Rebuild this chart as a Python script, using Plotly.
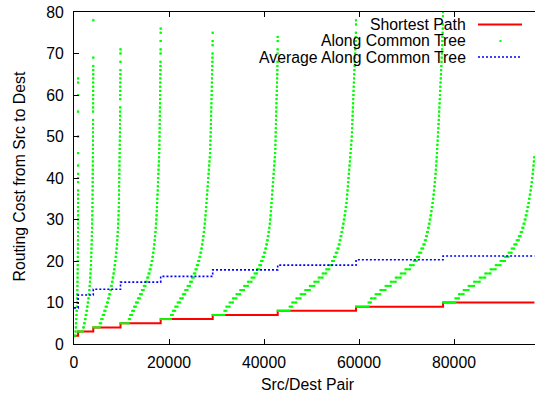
import plotly.graph_objects as go

# Src/dest pairs are sorted by shortest-path length, then by cost along the
# common tree. Each block below holds the pairs of one shortest-path length.
shortest_len = [2, 3, 4, 5, 6, 7, 8, 9, 10]

# Mean routing cost along the common tree inside each block
avg_tree_cost = [8.7, 11.8, 13.2, 14.9, 16.3, 17.85, 19.0, 20.3, 21.2]

# Number of pairs at each common-tree cost, per block.
# Entry k counts the pairs whose tree cost is (shortest length + k).
tree_counts_2 = [300, 60, 55, 50, 45, 40, 36, 32, 28, 25, 22, 20, 18, 16, 14,
                 12, 11, 10, 9, 8, 7, 6, 6, 5, 5, 4, 4, 3, 3, 3, 2, 2, 2, 2, 2,
                 1, 0, 1, 1, 1, 0, 1, 0, 0, 1, 0, 0, 0, 1, 0, 0, 0, 0, 0, 1,
                 0, 0, 0, 1, 0, 0, 1, 1]
tree_counts_3 = [1035, 190, 180, 168, 158, 147, 130, 116, 101, 88, 78, 67, 59,
                 53, 46, 42, 38, 34, 32, 29, 27, 25, 23, 21, 21, 19, 19, 17, 17,
                 17, 15, 15,
                 6, 6, 6, 6, 6, 6, 6, 6, 6, 6, 6, 6, 6, 6, 6, 6,
                 4, 4, 4, 4, 0, 4, 4, 4, 4, 4,
                 3, 3, 3, 3, 3, 3, 3, 0, 2, 0, 0, 0, 0, 0, 0, 0, 0, 1]
tree_counts_4 = [1346, 315, 315, 315, 295, 275, 250, 230, 210, 190, 168, 158,
                 147, 137, 126, 116, 105, 95, 84, 78, 63, 57, 53, 48, 44, 40,
                 36, 32, 29, 27,
                 13, 13, 13, 13, 13, 13, 13, 13, 13, 13, 13, 13, 13, 13, 13,
                 13, 13,
                 8, 8, 8, 8, 8, 8, 8, 0, 8, 8,
                 7, 7, 7, 7, 7, 7, 0, 5, 0, 4, 2]
tree_counts_5 = [1745, 280, 420, 400, 400, 420, 420, 420, 400, 360, 335, 275,
                 250, 230, 190, 158, 137, 120, 105, 95, 84, 76, 70, 63, 59, 55,
                 50, 46,
                 36, 36, 36, 36, 36, 36, 36, 36, 36, 36, 36, 36, 36, 36,
                 13, 13, 13, 13, 13, 13, 13, 13, 13, 13, 13, 13, 13, 13, 13, 13,
                 9, 9, 9, 9, 9, 9, 0, 8, 8, 0, 7, 0, 6, 3]
tree_counts_6 = [2175, 385, 505, 505, 545, 545, 505, 505, 505, 420, 380, 335,
                 295, 275, 250, 210, 180, 158, 137, 122, 110, 100, 88, 84, 78,
                 74, 70,
                 63, 63, 63, 63, 63, 63, 63, 63, 63, 63, 63, 63, 63, 63,
                 22, 22, 22, 22, 22, 22, 22, 22, 22, 22, 22, 22, 22, 22,
                 20, 20, 20, 20, 20, 20, 20, 20, 15, 15, 0, 12, 10, 0, 6]
tree_counts_7 = [2460, 410, 695, 715, 715, 800, 820, 800, 760, 630, 525, 465,
                 380, 335, 295, 250, 210, 180, 158, 137, 122, 110, 100, 90,
                 63, 63, 63, 63, 63, 63, 63, 63, 63, 63, 63, 63, 63, 63, 63, 63,
                 21, 21, 21, 21, 21, 21, 21, 21, 21, 21,
                 25, 25, 25, 25, 25, 25, 25, 25,
                 18, 18, 18, 18, 0, 12, 10, 0, 6, 4]
tree_counts_8 = [2505, 555, 865, 905, 970, 970, 945, 905, 840, 760, 655, 545,
                 420, 380, 335, 275, 210, 190, 180, 170, 160, 155, 147, 137,
                 126, 116, 105,
                 70, 70, 70, 70, 70, 70, 70, 70, 70, 70, 70, 70, 70, 70, 70,
                 34, 34, 34, 34, 34, 34, 34, 34, 34, 34, 34, 34, 34, 34, 34,
                 40, 40, 40, 40, 40, 40, 30, 30, 30, 30, 20, 0, 15, 10]
tree_counts_9 = [2625, 535, 950, 1010, 1095, 1095, 1050, 1050, 990, 950, 800,
                 630, 485, 465, 420, 315, 250, 210, 210, 190, 170, 158, 147,
                 137, 126, 116, 105, 95, 88, 84, 80, 74, 70, 63, 59, 55, 53,
                 48, 48, 48, 48, 48, 48, 48, 48, 48,
                 42, 42, 42, 42, 42, 42, 42, 42, 42, 42,
                 40, 40, 40, 40, 40, 40, 30, 30, 30, 30, 30, 25, 20, 0, 15, 10]
tree_counts_10 = [2600, 745, 990, 1050, 1160, 1180, 1160, 1115, 1095, 1010,
                  950, 760, 630, 545, 505, 465, 380, 315, 275, 240, 220, 200,
                  180, 170, 158, 147, 137, 126, 116, 105, 100, 93, 86, 82, 78,
                  74]

tree_counts = [tree_counts_2, tree_counts_3, tree_counts_4, tree_counts_5,
               tree_counts_6, tree_counts_7, tree_counts_8, tree_counts_9,
               tree_counts_10]

x_ticks = [0, 20000, 40000, 60000, 80000]
y_ticks = [0, 10, 20, 30, 40, 50, 60, 70, 80]
x_max = 97050

# Lay the pairs out along the x axis block by block.  Runs of pairs that share
# the same tree cost become short horizontal dashes of dots.
tree_x, tree_y = [], []
block_start = []
pos = 0
for s, counts in zip(shortest_len, tree_counts):
    block_start.append(pos)
    for k, n in enumerate(counts):
        if n > 0:
            tree_x += [pos, pos + n - 1, None]
            tree_y += [s + k, s + k, None]
        pos += n
n_pairs = pos

step_x = block_start + [n_pairs - 1]
short_y = shortest_len + [shortest_len[-1]]
avg_y = avg_tree_cost + [avg_tree_cost[-1]]

FONT = "Liberation Sans, Arial, Helvetica, sans-serif"
FS = 15.8
RED, GREEN, BLUE = "#ff0000", "#00ff00", "#0000ff"

fig = go.Figure()
fig.add_trace(go.Scatter(x=step_x, y=short_y, mode="lines", line_shape="hv",
                         line=dict(color=RED, width=2), showlegend=False,
                         name="Shortest Path"))
fig.add_trace(go.Scatter(x=tree_x, y=tree_y, mode="lines+markers",
                         line=dict(color=GREEN, width=2),
                         marker=dict(color=GREEN, size=2, symbol="square",
                                     line=dict(width=0)),
                         showlegend=False, name="Along Common Tree"))
fig.add_trace(go.Scatter(x=step_x, y=avg_y, mode="lines", line_shape="hv",
                         line=dict(color=BLUE, width=1.6, dash="2px,2px"),
                         showlegend=False, name="Average Along Common Tree"))

# Key in the top right corner: right-aligned labels with samples after them
L, R, T, B = 74, 535, 12, 344
W, H = R - L, B - T


def px(xp):
    return (xp - L) / W


def py(yp):
    return (B - yp) / H


key_rows = [("Shortest Path", 24.5), ("Along Common Tree", 41.0),
            ("Average Along Common Tree", 57.0)]
for text, yc in key_rows:
    fig.add_annotation(x=px(468), y=py(yc), xref="paper", yref="paper",
                       text=text, showarrow=False, xanchor="right",
                       yanchor="middle", font=dict(family=FONT, size=FS,
                                                   color="black"))
fig.add_shape(type="line", xref="paper", yref="paper", x0=px(478), x1=px(522),
              y0=py(24.5), y1=py(24.5), line=dict(color=RED, width=2))
fig.add_shape(type="rect", xref="paper", yref="paper", xsizemode="pixel",
              ysizemode="pixel", xanchor=px(500.5), yanchor=py(41.0),
              x0=-1, x1=1, y0=-1, y1=1, fillcolor=GREEN, line=dict(width=0))
fig.add_shape(type="line", xref="paper", yref="paper", x0=px(478), x1=px(522),
              y0=py(57.0), y1=py(57.0),
              line=dict(color=BLUE, width=1.6, dash="2px,2px"))

fig.add_annotation(x=px(307.5), y=py(384), xref="paper", yref="paper",
                   text="Src/Dest Pair", showarrow=False, xanchor="center",
                   yanchor="middle", font=dict(family=FONT, size=FS,
                                               color="black"))
fig.add_annotation(x=px(18.5), y=py(177), xref="paper", yref="paper",
                   text="Routing Cost from Src to Dest", showarrow=False,
                   textangle=-90, xanchor="center", yanchor="middle",
                   font=dict(family=FONT, size=FS, color="black"))

fig.update_xaxes(range=[0, x_max], tickvals=x_ticks,
                 ticktext=[str(v) for v in x_ticks], ticks="inside",
                 ticklen=5, tickwidth=1, tickcolor="black", showline=True,
                 linecolor="black", linewidth=1.2, mirror="ticks",
                 showgrid=False, zeroline=False, ticklabelstandoff=4,
                 tickfont=dict(family=FONT, size=FS, color="black"))
fig.update_yaxes(range=[0, 80], tickvals=y_ticks, ticks="inside", ticklen=5,
                 tickwidth=1, tickcolor="black", showline=True,
                 linecolor="black", linewidth=1.2, mirror=False,
                 showgrid=False, zeroline=False, ticklabelstandoff=6,
                 tickfont=dict(family=FONT, size=FS, color="black"))
fig.update_layout(width=535, height=396,
                  margin=dict(l=L, r=535 - R, t=T, b=396 - B),
                  paper_bgcolor="white", plot_bgcolor="white",
                  showlegend=False, font=dict(family=FONT, size=FS))

fig.write_html("out.html")
